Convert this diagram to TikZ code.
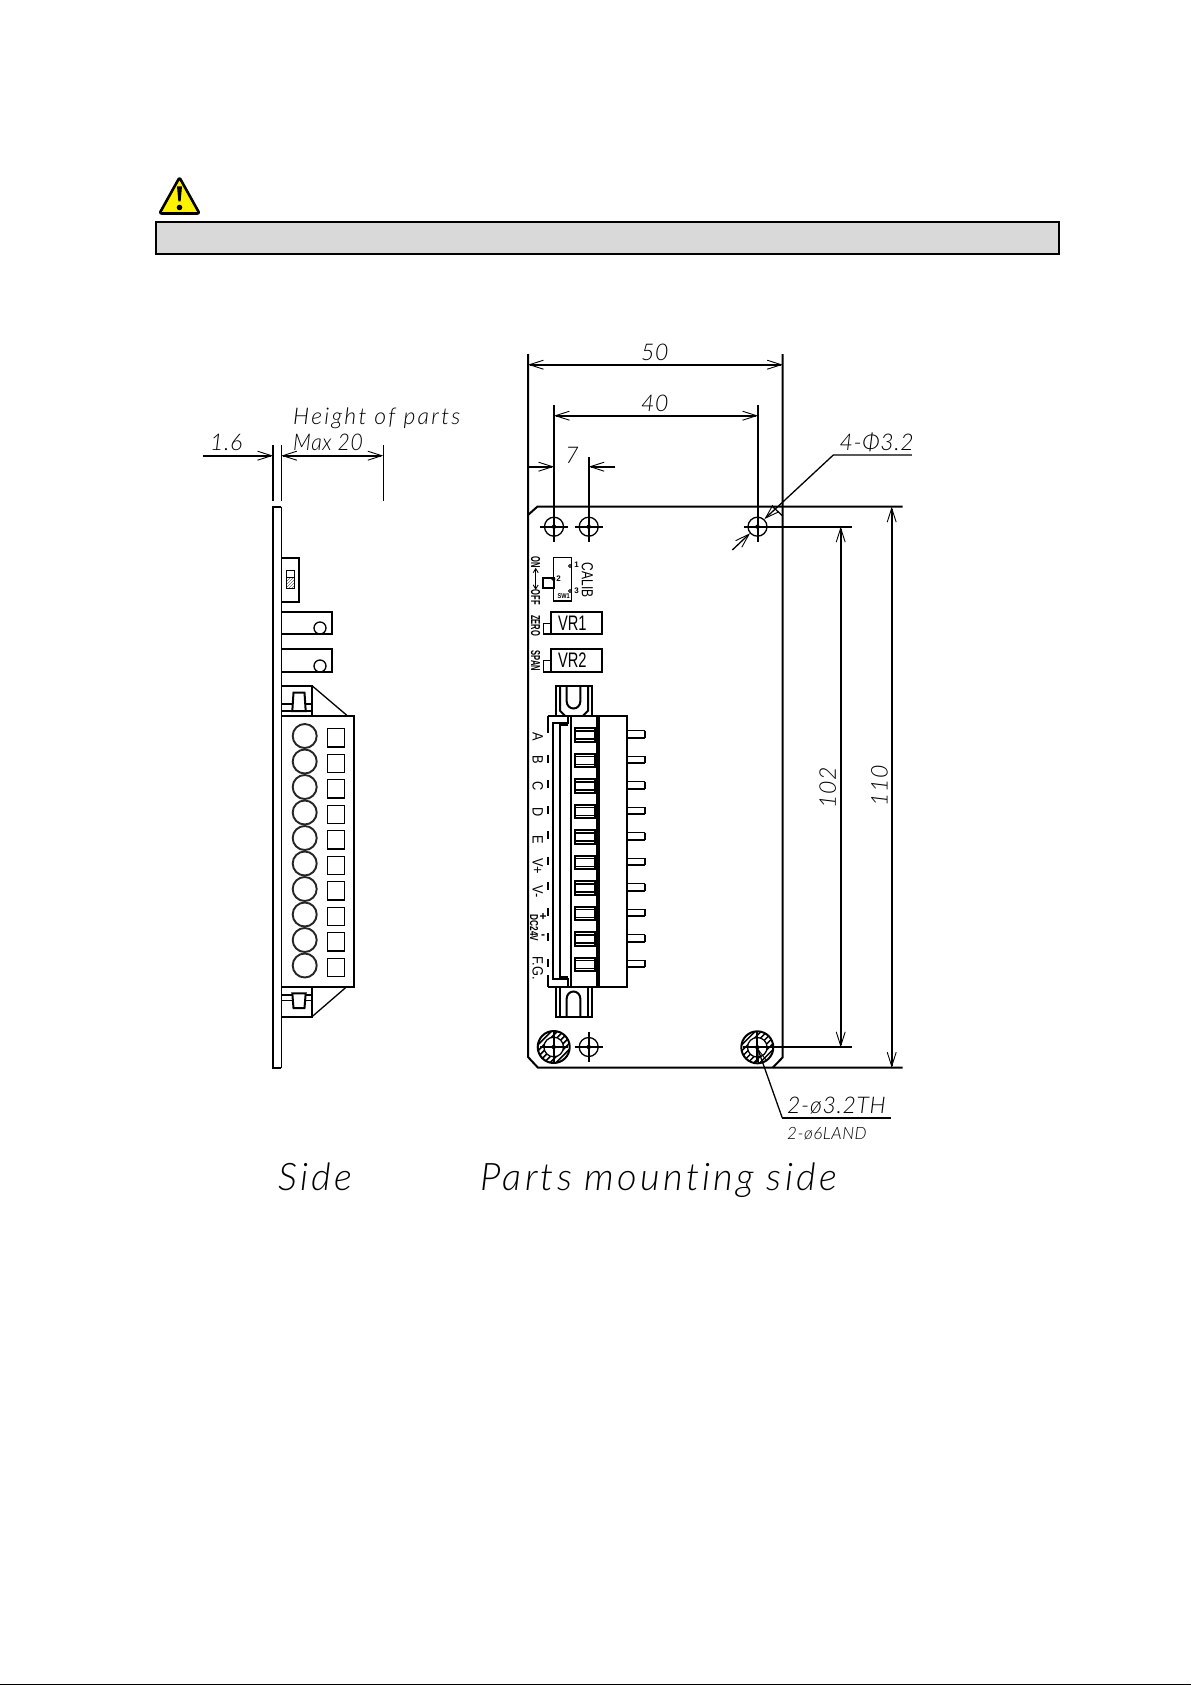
\documentclass[tikz,border=0pt]{standalone}
\usepackage{fontspec}
\usetikzlibrary{arrows.meta}
\newfontfamily\cadfont{Lato Light Italic}[LetterSpace=10,Ligatures=NoCommon]
\newfontfamily\headfont{Lato Light Italic}[LetterSpace=8.6,Ligatures=NoCommon]
\newfontfamily\numfont{Lato Light Italic}[LetterSpace=3,Ligatures=NoCommon]
\newfontfamily\tagfont{Liberation Sans}
\newcommand{\cadsize}[1]{\cadfont\fontsize{#1}{#1}\selectfont}
\newcommand{\headsize}[1]{\headfont\fontsize{#1}{#1}\selectfont}
\newcommand{\numsize}[1]{\numfont\fontsize{#1}{#1}\selectfont}
\newcommand{\tagsize}[1]{\tagfont\fontsize{#1}{#1}\selectfont}
\begin{document}
\begin{tikzpicture}[x=1pt, y=-1pt, >={Straight Barb[length=14pt,width=9pt,line width=0.9pt]},
  part/.style={line width=2pt},
  thin part/.style={line width=1.3pt},
  dimline/.style={line width=1.9pt},
  extline/.style={line width=1.4pt},
  dimtext/.style={font=\numsize{23}, inner sep=0pt},
  wordtext/.style={font=\cadsize{23}, inner sep=0pt, anchor=base west},
  titletext/.style={font=\headsize{38}, inner sep=0pt, anchor=base west},
  tagtext/.style={inner sep=0pt, rotate=-90}]
  \useasboundingbox (0,0) rectangle (1191,1685);
  % \draw[gray, very thin, step=100] (0,0) grid (1191,1685);
  \draw[line width=1.5pt] (0,1684.4) -- (1191,1684.4);

  % warning sign and bar
  \draw[line width=2.6pt, fill=yellow, line join=round, rounded corners=2pt] (179.5,177.5) -- (199.5,213.5) -- (159.5,213.5) -- cycle;
  \fill (177,186.5) -- (182,186.5) -- (180.6,201.5) -- (178.4,201.5) -- cycle;
  \fill (179.5,207.5) circle[radius=2.8];
  \draw[line width=2pt, fill=black!15] (156,222) rectangle (1059,254);

  % side view
  \begin{scope}
    \draw[part] (273,445) -- (273,500.7);
    \draw[extline] (281.3,445) -- (281.3,500.7);
    \draw[extline] (383.3,445) -- (383.3,500.7);
    \draw[dimline, ->] (203,455.7) -- (273,455.7);
    \draw[dimline, <->] (281.3,455.7) -- (383.3,455.7);
    \draw[line width=2.2pt] (281.3,506.7) -- (273,506.7) -- (273,1067.7) -- (281.3,1067.7);
    \draw[extline] (281.3,506.7) -- (281.3,1067.7);

    \draw[part] (281.7,557.7) -- (299.3,557.7) -- (299.3,602.3) -- (281.7,602.3);
    \draw[thin part] (286.3,570.7) rectangle (294.3,588.3);
    \draw[thin part] (286.3,577.7) -- (294.3,577.7);
    \begin{scope}
      \clip (286.3,577.7) rectangle (294.3,588.3);
      \foreach \h in {0,3,...,21}
        \draw[very thin] (284,590+\h-12) -- (296,578+\h-12);
    \end{scope}

    \draw[part] (281.7,611.7) -- (332.3,611.7) -- (332.3,634) -- (281.7,634);
    \draw[thin part] (320,628) circle[radius=6];
    \draw[part] (281.7,649.3) -- (332.3,649.3) -- (332.3,672) -- (281.7,672);
    \draw[thin part] (320,666) circle[radius=6];

    \draw[part] (281.7,685.7) -- (312,685.7) -- (312,715.7);
    \draw[thin part] (312,685.7) -- (347.3,715.7);
    \draw[part] (293.5,692.7) -- (304.5,692.7) -- (305.7,711) -- (292.3,711) -- cycle;
    \draw[thin part] (281.7,704) -- (292.5,704) (281.7,711) -- (292.3,711) (305.5,704) -- (312,704) (305.7,711) -- (312,711);

    \draw[part] (281.7,715.7) -- (354,715.7) -- (354,986.7) -- (281.7,986.7);
    \foreach \n in {0,...,9} {
      \draw[line width=1.9pt, black!85] (304.7,736+25.5*\n) circle[radius=12];
      \draw[thin part] (327.7,728.7+25.5*\n) rectangle (344.7,747+25.5*\n);
    }

    \draw[part] (281.7,1016.7) -- (312,1016.7) -- (312,986.7);
    \draw[thin part] (312,1016.7) -- (346.7,986.7);
    \draw[part] (292.3,993.3) -- (305.7,993.3) -- (304.5,1008) -- (293.5,1008) -- cycle;
    \draw[thin part] (281.7,995) -- (292.5,995) (281.7,1000.7) -- (293,1000.7) (305.5,995) -- (312,995) (305,1000.7) -- (312,1000.7);
  \end{scope}

  % board outline
  \draw[part] (528,354) -- (528,1057) -- (538,1067.7) -- (902.7,1067.7);
  \draw[part] (782.7,354) -- (782.7,1057.3) -- (772.7,1067.7);
  \draw[part] (528,515) -- (537.3,506.7) -- (902.7,506.7);
  \draw[thin part] (772.7,506.7) -- (782.7,516);

  % dimensions
  \draw[dimline, <->] (528,364.7) -- (782.7,364.7);
  \draw[dimline, <->] (554,415.7) -- (758,415.7);
  \draw[dimline, ->] (528,466.7) -- (554,466.7);
  \draw[dimline, ->] (615,466.7) -- (588.7,466.7);
  \draw[part] (554,405) -- (554,541.7);
  \draw[part] (758,405) -- (758,541.7);
  \draw[part] (588.7,457) -- (588.7,541.7);
  \draw[part] (757.3,526.7) -- (851.7,526.7);
  \draw[part] (757.3,1047.3) -- (851.7,1047.3);
  \draw[dimline, <->] (840.7,526.7) -- (840.7,1047.3);
  \draw[dimline, <->] (891.7,506.7) -- (891.7,1067.7);

  % lands
  \foreach \cx/\cy in {553.7/1047,757.3/1047.3} {
    \begin{scope}
      \clip (\cx,\cy) circle[radius=16];
      \foreach \h in {-30,-24,...,30}
        \draw[line width=1.5pt] (\cx+\h-20,\cy+20) -- (\cx+\h+20,\cy-20);
    \end{scope}
    \fill[white] (\cx,\cy) circle[radius=9.8];
    \draw[part] (\cx,\cy) circle[radius=16];
    \draw[thin part] (\cx,\cy) circle[radius=9.8];
    \draw[part] (\cx-14,\cy) -- (\cx+14,\cy);
    \draw[part] (\cx,\cy-15) -- (\cx,\cy+15);
    \fill (\cx,\cy) circle[radius=2.2];
  }
  % holes
  \foreach \cx/\cy in {554/526.7,588.7/526.7,757.5/526.7,588.7/1047} {
    \draw[thin part] (\cx,\cy) circle[radius=9.5];
    \draw[part] (\cx-14,\cy) -- (\cx+14,\cy);
    \draw[part] (\cx,\cy-15) -- (\cx,\cy+15);
    \fill (\cx,\cy) circle[radius=2.2];
  }

  % leaders
  \draw[line width=1.6pt, black!65] (833.3,455) -- (911.7,455);
  \draw[thin part, ->] (833.3,455) -- (764.5,519);
  \draw[thin part, ->] (732.3,550) -- (750,533.3);
  \draw[thin part, ->] (782.3,1118) -- (757.5,1048);
  \draw[thin part] (782.3,1118) -- (890.7,1118);

  % switch, trimmers
  \draw[thin part] (553.7,557.7) rectangle (571.7,601);
  \draw[part] (543.3,577.7) rectangle (553.7,588.3);
  \foreach \py in {566,591}
    \draw[line width=0.9pt] (570,\py) circle[radius=1.6];
  \draw[line width=0.9pt] (553.3,579) circle[radius=1.6];
  \draw[part] (550.7,611.7) rectangle (602.3,634);
  \draw[thin part] (543.3,623.3) rectangle (550.7,634);
  \draw[part] (550.7,649.3) rectangle (602.3,672);
  \draw[thin part] (543.3,660.7) rectangle (550.7,672);

  % connector, front
  \draw[part] (555.7,715.7) -- (555.7,685.7) -- (592.3,685.7) -- (592.3,715.7);
  \draw[part] (560,685.7) -- (560,710.7) -- (565,715.7);
  \draw[part] (588,685.7) -- (588,710.7) -- (583,715.7);
  \draw[part] (566.7,685.7) -- (566.7,701.5) arc[start angle=180, end angle=0, x radius=6.8, y radius=7] -- (580.3,685.7);
  \draw[part] (555.7,986.7) -- (555.7,1017) -- (592.3,1017) -- (592.3,986.7);
  \draw[part] (560,986.7) -- (560,1017);
  \draw[part] (588,986.7) -- (588,1017);
  \draw[part] (566.7,1017) -- (566.7,998.5) arc[start angle=180, end angle=0, x radius=6.8, y radius=-7] -- (580.3,1017);

  \draw[part] (547.7,715.7) -- (627,715.7) -- (627,986.7) -- (547.7,986.7);
  \draw[part] (547.7,715.7) -- (547.7,733);
  \foreach \n in {1,...,9}
    \draw[part] (547.7,720+25.5*\n+9) -- (547.7,720+25.5*\n+17);
  \draw[part] (547.7,975) -- (547.7,986.7);
  \draw[part] (570.7,715.7) -- (570.7,986.7);
  \draw[line width=3.8pt] (597.7,715.7) -- (597.7,986.7);
  \draw[part] (568.3,715.7) -- (568.3,722.7) -- (553,722.7) -- (553,979) -- (568.3,979) -- (568.3,986.7);
  \draw[part] (568.3,725) -- (559.5,725) -- (559.5,976.7) -- (568.3,976.7);
  \foreach \n in {0,...,9} {
    \draw[part] (574.7,728.3+25.5*\n) rectangle (594.7,741.7+25.5*\n);
    \draw[thin part] (574.7,731+25.5*\n) -- (594.7,731+25.5*\n);
    \draw[thin part] (574.7,739+25.5*\n) -- (594.7,739+25.5*\n);
    \draw[thin part] (627,730.7+25.5*\n) -- (645,730.7+25.5*\n);
    \draw[part] (627,737.7+25.5*\n) -- (645,737.7+25.5*\n);
    \draw[part] (645,730.7+25.5*\n) -- (645,737.7+25.5*\n);
  }

  % dimension labels
  \node[dimtext, anchor=base west] (lthick) at (210,450.7) {1.6};
  \node[wordtext] (lhigh) at (293,424) {Height of parts};
  \node[dimtext, anchor=base west] (lmax) at (293,450.7) {\scalebox{0.92}[1]{Max 20}};
  \node[dimtext] (lfifty) at (654.7,352.6) {50};
  \node[dimtext] (lforty) at (654.7,403) {40};
  \node[dimtext] (lseven) at (572,455) {7};
  \node[dimtext, rotate=90] (lhundredtwo) at (827.8,788) {102};
  \node[dimtext, rotate=90] (lhundredten) at (879.4,786) {110};
  \node[dimtext, anchor=base west] (lfour) at (839.3,450) {4-Φ3.2};
  \node[dimtext, anchor=base west] (lth) at (787,1113) {2-ø3.2TH};
  \node[font=\numsize{17}, inner sep=0pt, anchor=base west] (lland) at (787,1139) {2-ø6LAND};
  \node[titletext] (lside) at (278,1190.5) {Side};
  \node[titletext] (lmount) at (480.5,1190.5) {Parts mounting side};

  % printed tags
  \node[tagtext, font=\tagsize{13}\bfseries] (lon) at (535.7,562) {\scalebox{0.58}[1]{ON}};
  \node[tagtext, font=\tagsize{13}\bfseries] (loff) at (535.7,597.5) {\scalebox{0.58}[1]{OFF}};
  \draw[line width=0.9pt, {Straight Barb[length=4pt,width=5pt]}-{Straight Barb[length=4pt,width=5pt]}] (lon) -- (loff);
  \node[tagtext, font=\tagsize{13}\bfseries] (lzero) at (535.7,625.5) {\scalebox{0.58}[1]{ZERO}};
  \node[tagtext, font=\tagsize{13}\bfseries] (lspan) at (535.7,661) {\scalebox{0.58}[1]{SPAN}};
  \node[inner sep=0pt, font=\tagsize{21}] (lvrone) at (572.3,623.3) {\scalebox{0.7}[1]{VR1}};
  \node[inner sep=0pt, font=\tagsize{21}] (lvrtwo) at (572.3,660.5) {\scalebox{0.7}[1]{VR2}};
  \node[tagtext, font=\tagsize{16}] (lcalib) at (587.3,580) {\scalebox{0.75}[1]{CALIB}};
  \node[inner sep=0pt, font=\tagsize{8}\bfseries] (lone) at (576.5,565) {1};
  \node[inner sep=0pt, font=\tagsize{8}\bfseries] (ltwo) at (558.5,579) {2};
  \node[inner sep=0pt, font=\tagsize{8}\bfseries] (lthree) at (576.5,590.5) {3};
  \node[inner sep=0pt, font=\tagsize{7}\bfseries] (lsw) at (563.7,596.3) {\scalebox{0.8}[1]{SW1}};
  \foreach \t/\py/\nm in {A/736.7/la,B/760/lb,C/785.7/lc,D/811.7/ld,E/840/le,V+/866/lvp,V-/892/lvm,F.G./968/lfg}
    \node[tagtext, font=\tagsize{15}] (\nm) at (537.7,\py) {\scalebox{0.85}[1]{\t}};
  \node[inner sep=0pt, font=\tagsize{12}\bfseries] (lplus) at (543,916.7) {+};
  \node[inner sep=0pt, font=\tagsize{12}\bfseries] (lminus) at (543,937) {-};
  \node[tagtext, font=\tagsize{11.5}\bfseries] (ldc) at (534,928) {\scalebox{0.72}[1]{DC24V}};
\end{tikzpicture}
\end{document}
